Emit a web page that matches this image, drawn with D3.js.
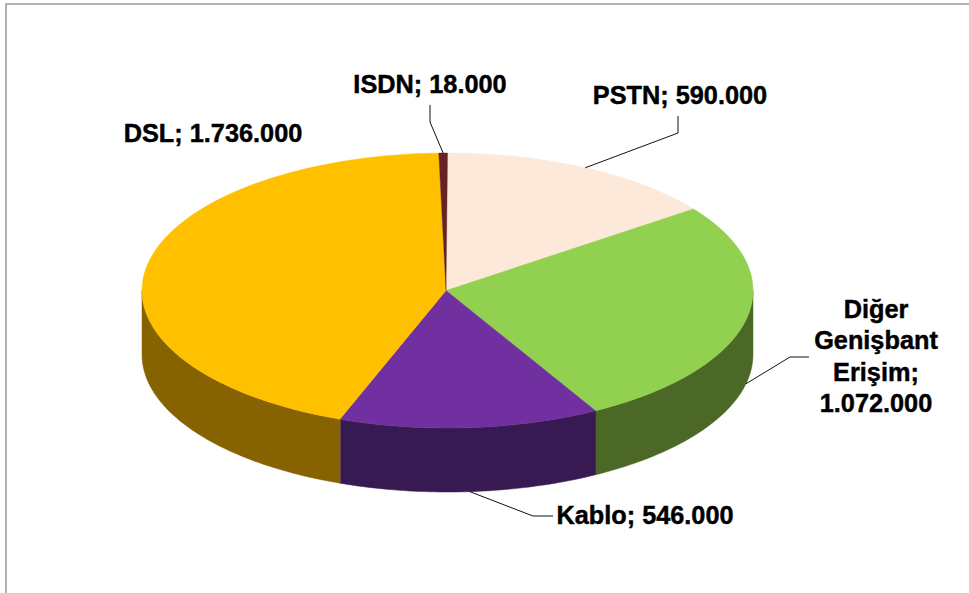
<!DOCTYPE html>
<html>
<head>
<meta charset="utf-8">
<script src="https://cdn.jsdelivr.net/npm/d3@7"></script>
<style>
    html, body { margin: 0; padding: 0; background: #fff; overflow: hidden; }
    text { font-family: "Liberation Sans", Arial, sans-serif; font-weight: bold; font-size: 25.3px; fill: #000; stroke: #000; stroke-width: 0.45px; }
</style>
</head>
<body>
<svg id="chart" width="969" height="593"></svg>
<script>
// values in pie order, clockwise from 12 o'clock
const categories = ['PSTN', 'Diğer Genişbant Erişim', 'Kablo', 'DSL', 'ISDN'];
const values = [590000, 1072000, 546000, 1736000, 18000];
const topColors = ['#fde9d9', '#92d050', '#7030a0', '#ffc000', '#632423'];
const sideColors = ['#7f7469', '#4c6827', '#371a52', '#866300', '#321211'];
const wallEdgeColors = ['none', '#5a7a30', '#8a7f6c', 'none', 'none'];

// label text lines, anchor + baseline of the first line, elbow of the leader
const labelLines = [
    ['PSTN; 590.000'],
    ['Diğer', 'Genişbant', 'Erişim;', '1.072.000'],
    ['Kablo; 546.000'],
    ['DSL; 1.736.000'],
    ['ISDN; 18.000']
];
const labelPos = [[680, 104], [876, 318], [645, 524], [213, 142], [430, 93]];
const leaderEnds = [[[678, 116], [678, 133]], [[809, 357], [790, 357]], [[553, 516], [533, 516]], null, [[430, 105], [430, 122]]];

const svg = d3.select('#chart');

// chart frame, only top and left show up
svg.append('path')
    .attr('d', 'M6,593V4H969')
    .attr('fill', 'none')
    .attr('stroke', '#999')
    .attr('stroke-width', 1.5);

const x = d3.scaleLinear().domain([-1, 1]).range([142, 753]);
const y = d3.scaleLinear().domain([-1, 1]).range([153, 428]);
const depth = 64;
const apexX = 446;

const arcs = d3.pie().sort(null)(values);
const pt = (a, dy = 0) => [x(Math.sin(a)), y(-Math.cos(a)) + dy];
const line = d3.line();

// sample an ellipse arc between two angles
function arcPoints(a0, a1, dy) {
    const n = Math.max(2, Math.ceil(Math.abs(a1 - a0) * 60));
    return d3.range(n + 1).map(i => pt(a0 + (a1 - a0) * i / n, dy));
}

/**
 * Side wall, only the front half of the pie (90 to 270 deg) is seen
 */
const walls = svg.append('g');
arcs.forEach((d, i) => {
    const a0 = Math.max(d.startAngle, Math.PI / 2);
    const a1 = Math.min(d.endAngle, Math.PI * 1.5);
    if (a1 <= a0) { return; }
    walls.append('path')
        .attr('d', line(arcPoints(a0, a1, 0).concat(arcPoints(a1, a0, depth))) + 'Z')
        .attr('fill', sideColors[i])
        .attr('stroke', sideColors[i])
        .attr('stroke-width', 0.5);
    // thin lighter seam where two walls meet
    if (wallEdgeColors[i] !== 'none') {
        walls.append('path')
            .attr('d', line([pt(a1, 0), pt(a1, depth)]))
            .attr('stroke', wallEdgeColors[i])
            .attr('stroke-width', 1);
    }
});

/**
 * Top face
 */
const faces = svg.append('g');
arcs.forEach((d, i) => {
    faces.append('path')
        .attr('d', line([[apexX, y(0)]].concat(arcPoints(d.startAngle, d.endAngle, 0))) + 'Z')
        .attr('fill', topColors[i])
        .attr('stroke', topColors[i])
        .attr('stroke-width', 0.4);
});

/**
 * Leaders start at the middle angle of each slice
 */
arcs.forEach((d, i) => {
    if (!leaderEnds[i]) { return; }
    const mid = (d.startAngle + d.endAngle) / 2;
    const onFront = Math.cos(mid) < 0 || Math.sin(mid) > 0.9;
    const start = pt(mid, onFront ? depth : 0);
    svg.append('path')
        .attr('d', line(leaderEnds[i].concat([start])))
        .attr('fill', 'none')
        .attr('stroke', '#111')
        .attr('stroke-width', 1);
});

/**
 * Labels
 */
labelLines.forEach((lines, i) => {
    const t = svg.append('text')
        .attr('text-anchor', 'middle')
        .attr('aria-label', categories[i]);
    lines.forEach((s, j) => {
        t.append('tspan')
            .attr('x', labelPos[i][0])
            .attr('y', labelPos[i][1] + j * 31.3)
            .text(s);
    });
});
</script>
</body>
</html>
